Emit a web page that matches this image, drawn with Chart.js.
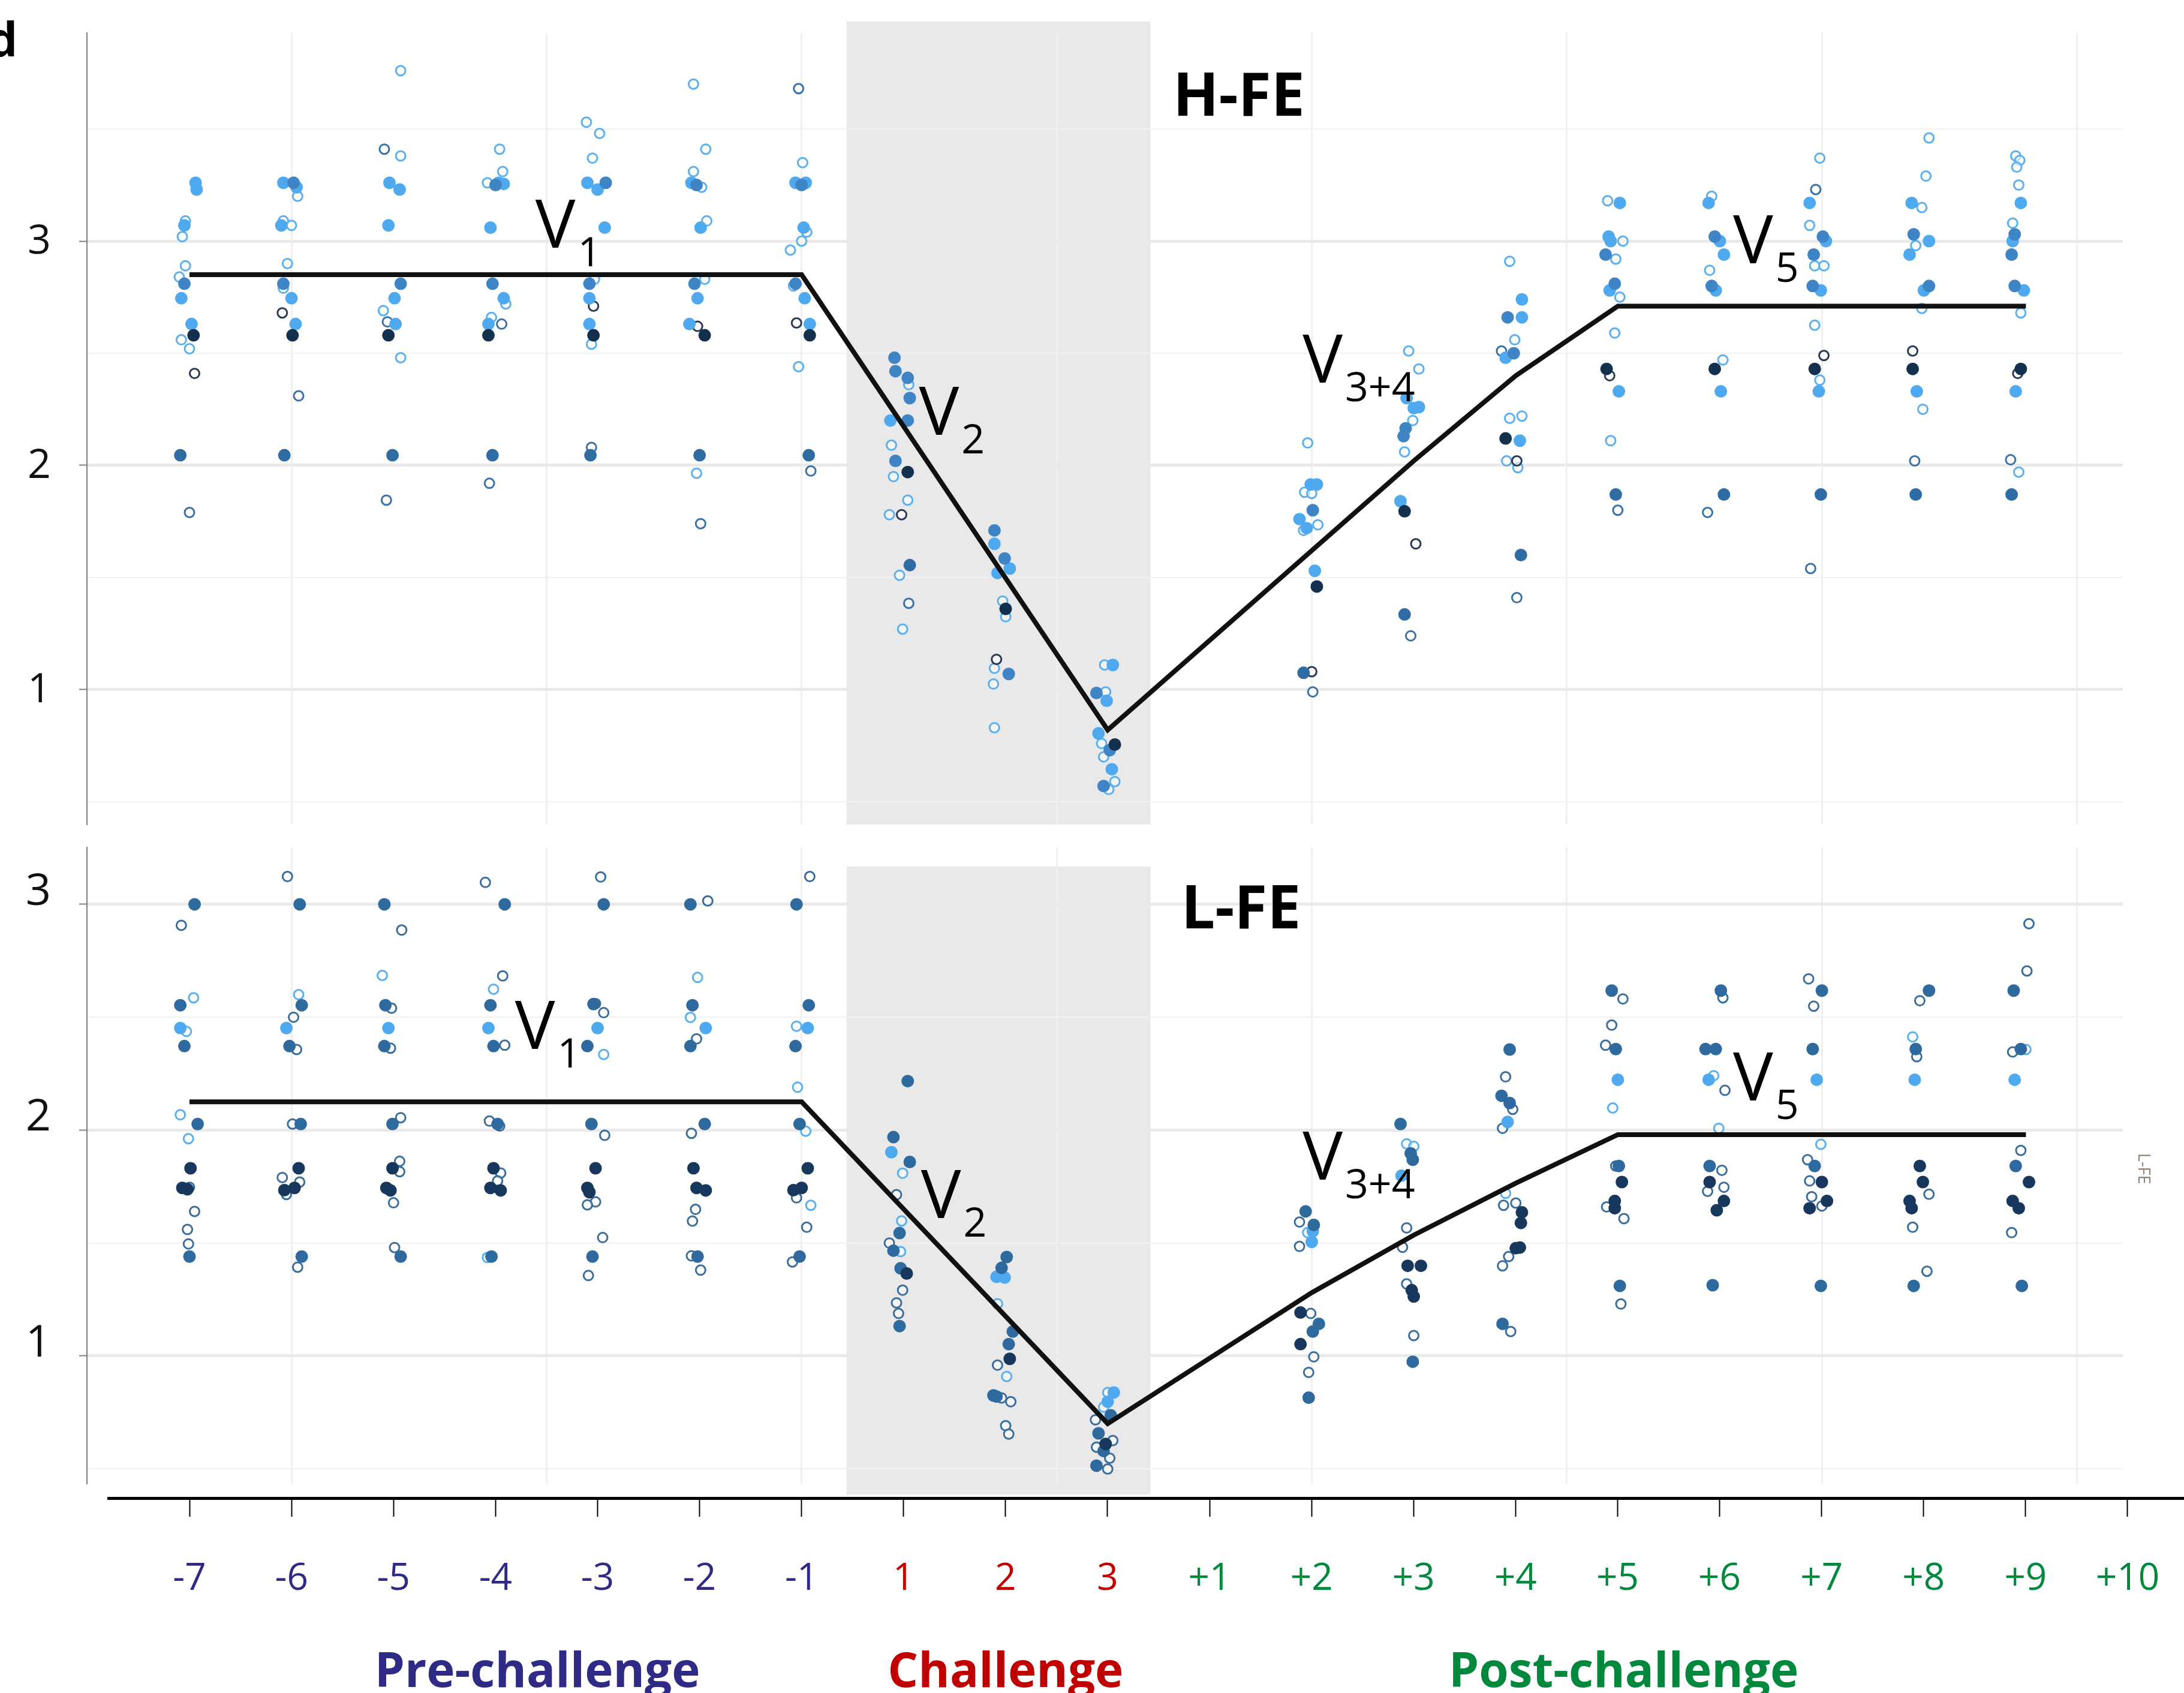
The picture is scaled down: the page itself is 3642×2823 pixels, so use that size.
<!DOCTYPE html>
<html>
<head>
<meta charset="utf-8">
<script src="https://cdn.jsdelivr.net/npm/chart.js@4.4.1/dist/chart.umd.min.js"></script>
<style>
  body { margin: 0; background: #fff; }
  #page { position: relative; width: 3642px; height: 2823px; overflow: hidden; background: #fff; }
  canvas { position: absolute; left: 0; }
</style>
</head>
<body>
<div id="page">
  <canvas id="topPanel" width="3642" height="1400" style="top:0"></canvas>
  <canvas id="bottomPanel" width="3642" height="1100" style="top:1400px"></canvas>
  <canvas id="dayAxis" width="3642" height="343" style="top:2480px"></canvas>
</div>
<script>
// x positions are day slots: 0 = day -7 ... 19 = day +10 (small offsets = jitter)
const days = ['-7','-6','-5','-4','-3','-2','-1','1','2','3','+1','+2','+3','+4','+5','+6','+7','+8','+9','+10'];
const phaseNames = ['Pre-challenge', 'Challenge', 'Post-challenge'];
const phaseCenters = [3.41, 8, 14.06];
const phaseColors = ['#2e2a86', '#c00000', '#00883c'];
const gridDays = [1, 3.5, 6, 8.5, 11, 13.5, 16, 18.5];
const challengeSpan = [6.44, 9.42];

// mean trajectory
const topMeanDays = [0, 6, 9, 12, 13, 14, 18];
const topMean = [2.85, 2.85, 0.82, 2.02, 2.40, 2.71, 2.71];
const bottomMeanDays = [0, 6, 9, 11, 12, 13, 14, 18];
const bottomMean = [2.125, 2.125, 0.70, 1.28, 1.535, 1.765, 1.98, 1.98];

// H-FE panel
const topLightFilled = [
  [0.06,3.26],[0.07,3.23],[-0.05,3.07],[-0.08,2.745],[0.02,2.63],
  [0.92,3.26],[1.05,3.24],[0.90,3.07],[1.0,2.745],[1.04,2.63],
  [1.96,3.26],[2.06,3.23],[1.95,3.07],[2.01,2.745],[2.02,2.63],
  [3.03,3.26],[3.08,3.255],[2.95,3.06],[3.08,2.745],[2.93,2.63],
  [3.90,3.26],[4.0,3.23],[4.07,3.06],[3.92,2.745],[3.92,2.63],
  [4.92,3.26],[5.01,3.06],[4.98,2.745],[4.90,2.63],
  [5.94,3.26],[6.04,3.26],[6.02,3.06],[6.03,2.745],[6.08,2.63],
  [6.87,2.20],
  [7.89,1.65],[8.04,1.54],[7.92,1.52],
  [9.05,1.11],[8.99,0.95],[8.91,0.805],[9.04,0.645],
  [10.99,1.915],[11.05,1.915],[10.88,1.76],[10.95,1.72],[11.03,1.53],
  [11.93,2.30],[12.05,2.26],[12.0,2.255],[11.87,1.84],
  [13.06,2.74],[13.06,2.66],[12.90,2.48],[13.04,2.11],
  [14.02,3.17],[13.91,3.02],[13.93,3.0],[13.92,2.78],[14.01,2.33],
  [14.89,3.17],[15.0,3.0],[15.04,2.94],[14.96,2.78],[15.01,2.33],
  [15.88,3.17],[16.04,3.0],[15.99,2.78],[15.97,2.33],
  [16.88,3.17],[17.05,3.0],[16.86,2.94],[17.0,2.78],[16.93,2.33],
  [17.95,3.17],[17.87,3.0],[17.98,2.78],[17.90,2.33]
];
const topMidFilled = [
  [-0.05,2.81],[1.02,3.26],[0.92,2.81],[2.07,2.81],[3.0,3.25],[2.97,2.81],
  [4.08,3.26],[3.92,2.81],[4.97,3.25],[4.95,2.81],[6.0,3.25],[5.94,2.81],
  [6.91,2.48],[6.92,2.42],[7.04,2.39],[7.06,2.30],[7.04,2.20],[6.92,2.02],
  [7.89,1.71],[7.99,1.585],[8.03,1.07],
  [8.89,0.985],[9.02,0.73],[8.96,0.57],
  [11.01,1.80],[11.92,2.165],[11.90,2.13],[12.92,2.66],[12.98,2.50],
  [13.88,2.94],[13.97,2.81],[14.95,3.02],[14.92,2.80],
  [16.01,3.02],[15.92,2.94],[15.91,2.80],[16.90,3.03],[17.05,2.80],
  [17.89,3.03],[17.86,2.94],[17.89,2.80]
];
const topSteelFilled = [
  [-0.09,2.045],[0.93,2.045],[1.99,2.045],[2.97,2.045],[3.93,2.045],[5.0,2.045],[6.07,2.045],
  [7.06,1.555],[10.92,1.075],[11.91,1.335],[13.05,1.60],[13.98,1.87],[15.04,1.87],
  [15.99,1.87],[16.92,1.87],[17.86,1.87]
];
const topNavyFilled = [
  [0.04,2.58],[1.01,2.58],[1.95,2.58],[2.93,2.58],[3.96,2.58],[5.05,2.58],[6.08,2.58],
  [7.04,1.97],[8.0,1.36],[9.07,0.755],[11.05,1.46],[11.91,1.795],[12.90,2.12],
  [13.89,2.43],[14.95,2.43],[15.93,2.43],[16.89,2.43],[17.95,2.43]
];
const topLightOpen = [
  [-0.04,3.09],[-0.07,3.02],[-0.04,2.89],[-0.10,2.84],[-0.08,2.56],[0.0,2.52],
  [1.06,3.20],[0.92,3.09],[1.0,3.07],[0.96,2.90],[0.92,2.79],
  [2.07,3.76],[2.07,3.38],[1.90,2.69],[2.07,2.48],
  [3.04,3.41],[3.07,3.31],[2.92,3.26],[3.10,2.72],[2.96,2.66],
  [3.89,3.53],[4.02,3.48],[3.95,3.37],[3.97,2.83],[3.94,2.54],
  [4.94,3.70],[5.06,3.41],[4.94,3.31],[5.02,3.24],[5.07,3.09],[5.05,2.83],[4.97,1.965],
  [6.01,3.35],[6.05,3.04],[6.0,3.0],[5.89,2.96],[5.92,2.80],[5.97,2.44],
  [7.05,2.36],[6.88,2.09],[6.90,1.95],[7.04,1.845],[6.86,1.78],[6.96,1.51],[6.99,1.27],
  [7.97,1.395],[8.0,1.325],[7.89,1.095],[7.88,1.025],[7.89,0.83],
  [8.97,1.11],[8.98,0.99],[8.94,0.76],[8.96,0.70],[9.07,0.59],[9.01,0.555],
  [10.96,2.10],[10.93,1.88],[11.0,1.875],[10.92,1.71],[11.06,1.735],
  [11.95,2.51],[12.05,2.43],[11.99,2.20],[11.91,2.06],
  [12.94,2.91],[12.99,2.56],[12.94,2.21],[13.06,2.22],[12.91,2.02],[13.02,1.99],
  [13.90,3.18],[14.05,3.0],[13.98,2.92],[14.02,2.75],[13.97,2.59],[13.93,2.11],
  [14.92,3.20],[14.90,2.87],[15.03,2.47],
  [15.98,3.37],[15.88,3.07],[15.93,2.89],[16.02,2.89],[15.93,2.625],[15.98,2.38],
  [17.05,3.46],[17.02,3.29],[16.98,3.15],[16.92,2.98],[16.98,2.70],[16.99,2.25],
  [17.90,3.38],[17.94,3.36],[17.91,3.33],[17.93,3.25],[17.87,3.08],[17.95,2.68],[17.93,1.97]
];
const topSteelOpen = [
  [0.0,1.79],[1.07,2.31],[1.91,3.41],[1.94,2.64],[1.93,1.845],[3.06,2.63],[2.94,1.92],
  [3.94,2.08],[5.01,1.74],[5.97,3.68],[6.09,1.975],
  [7.05,1.385],[11.01,0.99],[11.97,1.24],[12.86,2.51],[13.01,1.41],[14.0,1.80],
  [14.88,1.79],[15.94,3.23],[15.89,1.54],[16.91,2.02],[17.85,2.025]
];
const topNavyOpen = [
  [0.05,2.41],[0.91,2.68],[3.96,2.71],[4.98,2.62],[5.95,2.635],[6.98,1.78],[7.91,1.135],
  [11.0,1.08],[12.02,1.65],[13.01,2.02],[13.92,2.40],[16.02,2.49],[16.89,2.51],[17.92,2.41]
];

// L-FE panel
const botSteelFilled = [
  [0.05,3.0],[-0.09,2.553],[-0.05,2.372],[0.08,2.027],[0.0,1.44],
  [1.08,3.0],[1.10,2.553],[0.98,2.372],[1.09,2.027],[1.10,1.44],
  [1.91,3.0],[1.92,2.553],[1.91,2.372],[1.99,2.027],[2.07,1.44],
  [3.09,3.0],[2.95,2.553],[2.98,2.372],[3.02,2.027],[2.96,1.44],
  [4.06,3.0],[3.96,2.558],[3.90,2.372],[3.94,2.027],[3.95,1.44],
  [4.91,3.0],[4.93,2.553],[4.91,2.372],[5.05,2.027],[4.98,1.44],
  [5.95,3.0],[6.07,2.553],[5.94,2.372],[5.98,2.027],[5.98,1.44],
  [7.04,2.217],[6.90,1.969],[7.06,1.859],[6.96,1.544],[6.90,1.466],[6.97,1.388],[6.96,1.132],
  [8.01,1.438],[7.96,1.39],[8.07,1.108],[8.03,1.052],[7.88,0.825],[7.91,0.82],
  [9.03,0.737],[8.91,0.657],[8.96,0.579],[8.89,0.514],
  [10.94,1.64],[11.02,1.58],[11.07,1.142],[11.01,1.108],[10.97,0.815],
  [11.87,2.027],[11.97,1.897],[11.99,1.869],[11.99,0.974],
  [12.94,2.357],[12.86,2.152],[12.94,2.12],[12.87,1.142],
  [13.94,2.618],[13.98,2.359],[14.01,1.841],[14.02,1.31],
  [15.01,2.618],[14.86,2.359],[14.96,2.359],[14.90,1.841],[14.93,1.313],
  [16.0,2.618],[15.91,2.359],[15.93,1.841],[15.99,1.31],
  [17.05,2.618],[16.92,2.359],[16.90,1.31],
  [17.88,2.618],[17.95,2.359],[17.90,1.841],[17.96,1.31]
];
const botLightFilled = [
  [-0.09,2.452],[0.95,2.452],[1.95,2.452],[2.93,2.452],[4.0,2.452],[5.06,2.452],[6.06,2.452],
  [6.88,1.902],[7.91,1.35],[7.99,1.347],[9.06,0.838],[9.0,0.797],[11.01,1.552],[11.0,1.505],
  [11.88,1.798],[12.92,2.036],[14.0,2.223],[14.89,2.223],[15.95,2.223],[16.91,2.223],[17.89,2.223]
];
const botNavyFilled = [
  [0.01,1.831],[-0.07,1.744],[-0.02,1.738],[1.07,1.831],[1.03,1.744],[0.93,1.734],
  [1.99,1.831],[1.93,1.744],[1.97,1.733],[2.98,1.831],[2.95,1.744],[3.05,1.733],
  [3.98,1.831],[3.90,1.744],[3.92,1.725],[4.94,1.831],[4.97,1.744],[5.06,1.733],
  [6.06,1.831],[5.92,1.734],[6.0,1.744],
  [7.03,1.365],[8.04,0.987],[8.98,0.61],[10.89,1.192],[10.89,1.052],
  [11.94,1.399],[12.07,1.399],[11.98,1.291],[12.0,1.263],
  [13.06,1.636],[13.05,1.589],[13.04,1.48],[13.0,1.477],
  [14.04,1.77],[13.97,1.686],[13.97,1.654],[14.90,1.77],[15.04,1.686],[14.97,1.645],
  [16.0,1.77],[16.05,1.686],[15.88,1.654],[16.96,1.841],[16.99,1.77],[16.86,1.686],[16.88,1.654],
  [18.03,1.77],[17.87,1.686],[17.93,1.654]
];
const botLightOpen = [
  [0.04,2.586],[-0.03,2.437],[-0.09,2.068],[-0.01,1.962],[1.07,2.60],[1.89,2.685],
  [2.98,2.624],[2.92,1.436],[4.06,2.335],[4.98,2.676],[4.91,2.499],
  [5.95,2.46],[5.96,2.19],[6.04,1.995],[6.09,1.667],
  [6.99,1.809],[6.98,1.598],[6.97,1.462],[7.92,1.231],[8.01,0.909],[9.0,0.838],[8.96,0.773],
  [10.96,1.546],[11.93,1.939],[12.0,1.928],[12.90,1.72],[13.95,2.098],
  [14.94,2.241],[14.99,2.008],[15.99,1.937],[16.89,2.413],[18.0,2.357]
];
const botSteelOpen = [
  [-0.08,2.907],[0.05,1.64],[-0.02,1.56],[-0.01,1.496],[0.0,1.747],
  [0.96,3.123],[1.02,2.50],[1.05,2.357],[1.01,2.027],[0.91,1.79],[1.08,1.77],[0.95,1.715],[1.06,1.393],
  [2.08,2.886],[1.98,2.54],[1.97,2.363],[2.07,2.055],[2.06,1.862],[2.06,1.816],[2.0,1.678],[2.01,1.48],
  [2.90,3.097],[3.07,2.683],[3.09,2.376],[2.94,2.04],[3.04,2.018],[3.05,1.81],[3.02,1.775],
  [4.03,3.121],[3.98,2.56],[4.06,2.52],[4.07,1.977],[3.98,1.682],[3.90,1.669],[4.05,1.524],[3.91,1.356],
  [5.08,3.015],[4.97,2.404],[4.92,1.986],[4.96,1.649],[4.93,1.597],[4.92,1.443],[5.01,1.38],
  [6.08,3.123],[5.95,1.70],[6.05,1.57],[5.91,1.416],
  [6.93,1.714],[6.86,1.50],[6.99,1.291],[6.93,1.235],[6.95,1.188],
  [7.92,0.959],[7.96,0.814],[8.05,0.797],[8.0,0.691],[8.03,0.654],
  [8.88,0.717],[9.05,0.625],[8.89,0.596],[9.02,0.547],[9.0,0.499],
  [10.88,1.593],[10.88,1.485],[10.99,1.188],[11.02,0.996],[10.97,0.927],
  [11.93,1.567],[11.89,1.481],[11.93,1.319],[12.0,1.09],
  [12.90,2.236],[12.97,2.092],[12.87,2.008],[12.88,1.667],[13.0,1.677],[12.93,1.44],[12.87,1.399],[12.95,1.108],
  [14.05,2.581],[13.94,2.465],[13.88,2.376],[13.98,1.841],[13.89,1.66],[14.06,1.608],[14.03,1.23],
  [15.03,2.586],[15.05,2.176],[15.02,1.822],[15.04,1.747],[14.88,1.729],
  [15.87,2.67],[15.92,2.549],[15.86,1.869],[15.88,1.775],[15.90,1.705],[16.0,1.664],
  [16.96,2.573],[16.93,2.325],[17.05,1.716],[16.89,1.57],[17.03,1.375],
  [18.03,2.914],[18.01,2.705],[17.87,2.346],[17.95,1.91],[17.86,1.546]
];

const xRange = [-1.005, 18.95];
const font = 'Open Sans';

function pts(arr) {
  return arr.map(p => ({ x: p[0], y: p[1] }));
}
function filled(arr, color) {
  return { data: pts(arr), backgroundColor: color, borderWidth: 0, pointRadius: 10.5, pointHoverRadius: 10.5 };
}
function hollow(arr, color) {
  return { data: pts(arr), backgroundColor: 'rgba(255,255,255,0.55)', borderColor: color,
           borderWidth: 3, pointRadius: 8, pointHoverRadius: 8, order: 1 };
}
function meanLine(d, v) {
  return { data: d.map((x, i) => ({ x: x, y: v[i] })), showLine: true, borderColor: '#111',
           borderWidth: 8, pointRadius: 0, order: -1 };
}

// grey challenge band, annotations, panel tag
const panelDecor = {
  id: 'panelDecor',
  beforeDraw(chart, args, opts) {
    const { ctx, scales: { x, y } } = chart;
    const x0 = x.getPixelForValue(challengeSpan[0]);
    const x1 = x.getPixelForValue(challengeSpan[1]);
    const y0 = y.getPixelForValue(opts.shade[1]);
    const y1 = y.getPixelForValue(opts.shade[0]);
    ctx.save();
    ctx.fillStyle = '#e9e9e9';
    ctx.fillRect(x0, y0, x1 - x0, y1 - y0);
    ctx.restore();
  },
  afterDraw(chart, args, opts) {
    const { ctx, scales: { x, y } } = chart;
    ctx.save();
    ctx.fillStyle = '#000';
    ctx.textBaseline = 'alphabetic';
    opts.labels.forEach(l => {
      const px = x.getPixelForValue(l.x), py = y.getPixelForValue(l.y);
      ctx.font = '112px "' + font + '"';
      ctx.fillText(l.main, px, py);
      const w = ctx.measureText(l.main).width;
      ctx.font = '68px "' + font + '"';
      ctx.fillText(l.sub, px + w + 4, py + 31);
    });
    ctx.font = 'bold 100px "' + font + '"';
    ctx.fillText(opts.title.text, x.getPixelForValue(opts.title.x), y.getPixelForValue(opts.title.y));
    if (opts.tag) {
      ctx.font = 'bold 78px "' + font + '"';
      ctx.fillText(opts.tag, -20, 94);
    }
    if (opts.side) {
      ctx.translate(x.getPixelForValue(opts.side.x), y.getPixelForValue(opts.side.y));
      ctx.rotate(Math.PI / 2);
      ctx.font = '27px "' + font + '"';
      ctx.fillStyle = '#8c8276';
      ctx.fillText(opts.side.text, 0, 0);
    }
    ctx.restore();
  }
};

function panelOptions(range, pad, labelShift, labelSize, decor) {
  const isInt = c => Number.isInteger(c.tick.value);
  return {
    responsive: false,
    animation: false,
    devicePixelRatio: 1,
    layout: { padding: pad },
    plugins: { legend: { display: false }, tooltip: { enabled: false }, panelDecor: decor },
    scales: {
      x: {
        type: 'linear', min: xRange[0], max: xRange[1],
        afterBuildTicks: s => { s.ticks = gridDays.map(v => ({ value: v })); },
        afterFit: s => { s.height = 0; s.paddingLeft = 0; s.paddingRight = 0; },
        ticks: { display: false },
        grid: { drawTicks: false, color: '#efefef', lineWidth: 3 },
        border: { display: false }
      },
      y: {
        type: 'linear', min: range[0], max: range[1],
        afterFit: s => { s.width = 145; s.paddingTop = 0; s.paddingBottom = 0; },
        ticks: {
          stepSize: 0.5, includeBounds: false, padding: 47, labelOffset: labelShift,
          color: '#111', font: { family: font, size: labelSize, lineHeight: 0.5 },
          callback: v => Number.isInteger(v) ? String(v) : ''
        },
        grid: {
          tickLength: 13, tickWidth: 2,
          tickColor: c => isInt(c) ? '#7f7f7f' : 'rgba(0,0,0,0)',
          color: c => isInt(c) ? '#e9e9e9' : '#f1f1f1',
          lineWidth: c => isInt(c) ? 5 : 2
        },
        border: { color: '#7f7f7f', width: 2 }
      }
    }
  };
}

new Chart(document.getElementById('topPanel'), {
  type: 'scatter',
  data: {
    datasets: [
      meanLine(topMeanDays, topMean),
      filled(topNavyFilled, '#13304f'),
      filled(topSteelFilled, '#2f6ca3'),
      filled(topMidFilled, '#3f84c4'),
      filled(topLightFilled, '#4ea9ef'),
      hollow(topNavyOpen, '#2a3a50'),
      hollow(topSteelOpen, '#3a72a8'),
      hollow(topLightOpen, '#5ab0f0')
    ]
  },
  options: panelOptions([0.398, 3.928], { left: 0, top: 55, right: 102, bottom: 25 }, 2, 68, {
    shade: [0.398, 3.979],
    labels: [
      { main: 'V', sub: '1', x: 3.39, y: 2.97 },
      { main: 'V', sub: '2', x: 7.15, y: 2.136 },
      { main: 'V', sub: '3+4', x: 10.91, y: 2.37 },
      { main: 'V', sub: '5', x: 15.13, y: 2.90 }
    ],
    title: { text: 'H-FE', x: 9.64, y: 3.56 },
    tag: 'd'
  }),
  plugins: [panelDecor]
});

new Chart(document.getElementById('bottomPanel'), {
  type: 'scatter',
  data: {
    datasets: [
      meanLine(bottomMeanDays, bottomMean),
      filled(botNavyFilled, '#17385c'),
      filled(botSteelFilled, '#2e6a9e'),
      filled(botLightFilled, '#4ea9ef'),
      hollow(botSteelOpen, '#3c6e9c'),
      hollow(botLightOpen, '#5ab0f0')
    ]
  },
  options: panelOptions([0.434, 3.252], { left: 0, top: 13, right: 102, bottom: 26 }, -20, 74, {
    shade: [0.386, 3.167],
    labels: [
      { main: 'V', sub: '1', x: 3.19, y: 2.36 },
      { main: 'V', sub: '2', x: 7.17, y: 1.61 },
      { main: 'V', sub: '3+4', x: 10.91, y: 1.78 },
      { main: 'V', sub: '5', x: 15.13, y: 2.13 }
    ],
    title: { text: 'L-FE', x: 9.72, y: 2.894 },
    side: { text: 'L-FE', x: 19.10, y: 1.898 }
  }),
  plugins: [panelDecor]
});

// shared day axis with phase names
const phaseLabels = {
  id: 'phaseLabels',
  afterDraw(chart) {
    const { ctx, scales: { x }, chartArea } = chart;
    ctx.save();
    ctx.font = 'bold 80px "' + font + '"';
    ctx.textAlign = 'center';
    ctx.textBaseline = 'alphabetic';
    phaseNames.forEach((name, i) => {
      ctx.fillStyle = phaseColors[i];
      ctx.fillText(name, x.getPixelForValue(phaseCenters[i]), chartArea.bottom + 315);
    });
    ctx.restore();
  }
};

function dayColor(i) {
  if (i < 7) return phaseColors[0];
  if (i < 10) return phaseColors[1];
  return phaseColors[2];
}

new Chart(document.getElementById('dayAxis'), {
  type: 'scatter',
  data: { datasets: [] },
  options: {
    responsive: false,
    animation: false,
    devicePixelRatio: 1,
    layout: { padding: { left: 181, right: 0, top: 8, bottom: 0 } },
    plugins: { legend: { display: false }, tooltip: { enabled: false } },
    scales: {
      x: {
        type: 'linear', min: -0.794, max: 19.553, position: 'bottom',
        afterBuildTicks: s => { s.ticks = days.map((d, i) => ({ value: i })); },
        afterFit: s => { s.height = 325; s.paddingLeft = 0; s.paddingRight = 0; },
        ticks: {
          autoSkip: false, maxRotation: 0, padding: 67,
          font: { family: font, size: 62 },
          color: c => dayColor(c.index),
          callback: v => days[v]
        },
        grid: { drawOnChartArea: false, drawTicks: true, tickLength: 31, tickWidth: 2, tickColor: '#000' },
        border: { display: true, color: '#000', width: 5 }
      },
      y: { display: false, min: 0, max: 1 }
    }
  },
  plugins: [phaseLabels]
});
</script>
</body>
</html>
